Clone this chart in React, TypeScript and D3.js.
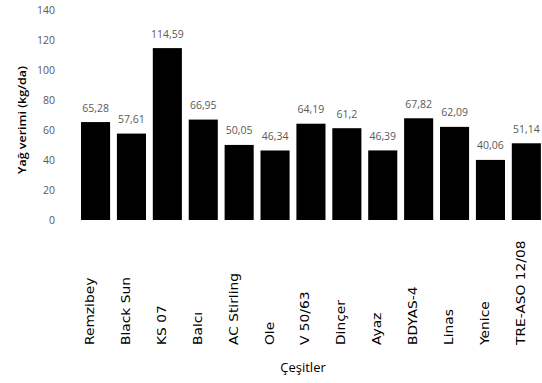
import React from "react";
import * as d3 from "d3";

const categories = [
  "Remzibey", "Black Sun", "KS 07", "Balcı", "AC Stirling", "Ole", "V 50/63",
  "Dinçer", "Ayaz", "BDYAS-4", "Linas", "Yenice", "TRE-ASO 12/08",
];
const values = [65.28, 57.61, 114.59, 66.95, 50.05, 46.34, 64.19, 61.2, 46.39, 67.82, 62.09, 40.06, 51.14];
const valueLabels = ["65,28", "57,61", "114,59", "66,95", "50,05", "46,34", "64,19", "61,2", "46,39", "67,82", "62,09", "40,06", "51,14"];
const yTicks = [0, 20, 40, 60, 80, 100, 120, 140];
const yTitle = "Yağ verimi (kg/da)";
const xTitle = "Çeşitler";

const W = 542;
const H = 383;

export default function App() {
  const x = d3.scaleBand<string>().domain(categories).range([77.6, 544.3]).paddingInner(0.19).paddingOuter(0.095);
  const y = d3.scaleLinear().domain([0, 140]).range([220, 10]);
  const bw = x.bandwidth();
  return (
    <svg width={W} height={H} style={{ position: "absolute", left: 0, top: 0, background: "#fff" }}>
      <rect x={0} y={0} width={W} height={H} fill="#fff" />
      {yTicks.map((t) => (
        <text key={t} x={55} y={y(t)} dy="0.35em" textAnchor="end" fontFamily="'Open Sans', sans-serif" fontSize={10.5} fill="#595959">
          {t}
        </text>
      ))}
      {categories.map((c, i) => {
        const cx = (x(c) as number) + bw / 2;
        return (
          <g key={c}>
            <rect x={x(c)} y={y(values[i])} width={bw} height={y(0) - y(values[i])} fill="#000" />
            <text x={cx} y={y(values[i]) - 10.5} textAnchor="middle" fontFamily="'Open Sans', sans-serif" fontSize={10.5} fill="#595959">
              {valueLabels[i]}
            </text>
            <text transform={`translate(${cx - 1.5},345) rotate(-90) scale(1.2,1)`} textAnchor="start" fontFamily="'DejaVu Sans', sans-serif" fontSize={11.5} fill="#000">
              {c}
            </text>
          </g>
        );
      })}
      <text transform={`translate(26,120) rotate(-90) scale(1.25,1)`} textAnchor="middle" fontFamily="'Open Sans', sans-serif" fontWeight={600} fontSize={10} fill="#000">
        {yTitle}
      </text>
      <text x={303} y={372} textAnchor="middle" fontFamily="'Open Sans', sans-serif" fontSize={13} fill="#000">
        {xTitle}
      </text>
    </svg>
  );
}
